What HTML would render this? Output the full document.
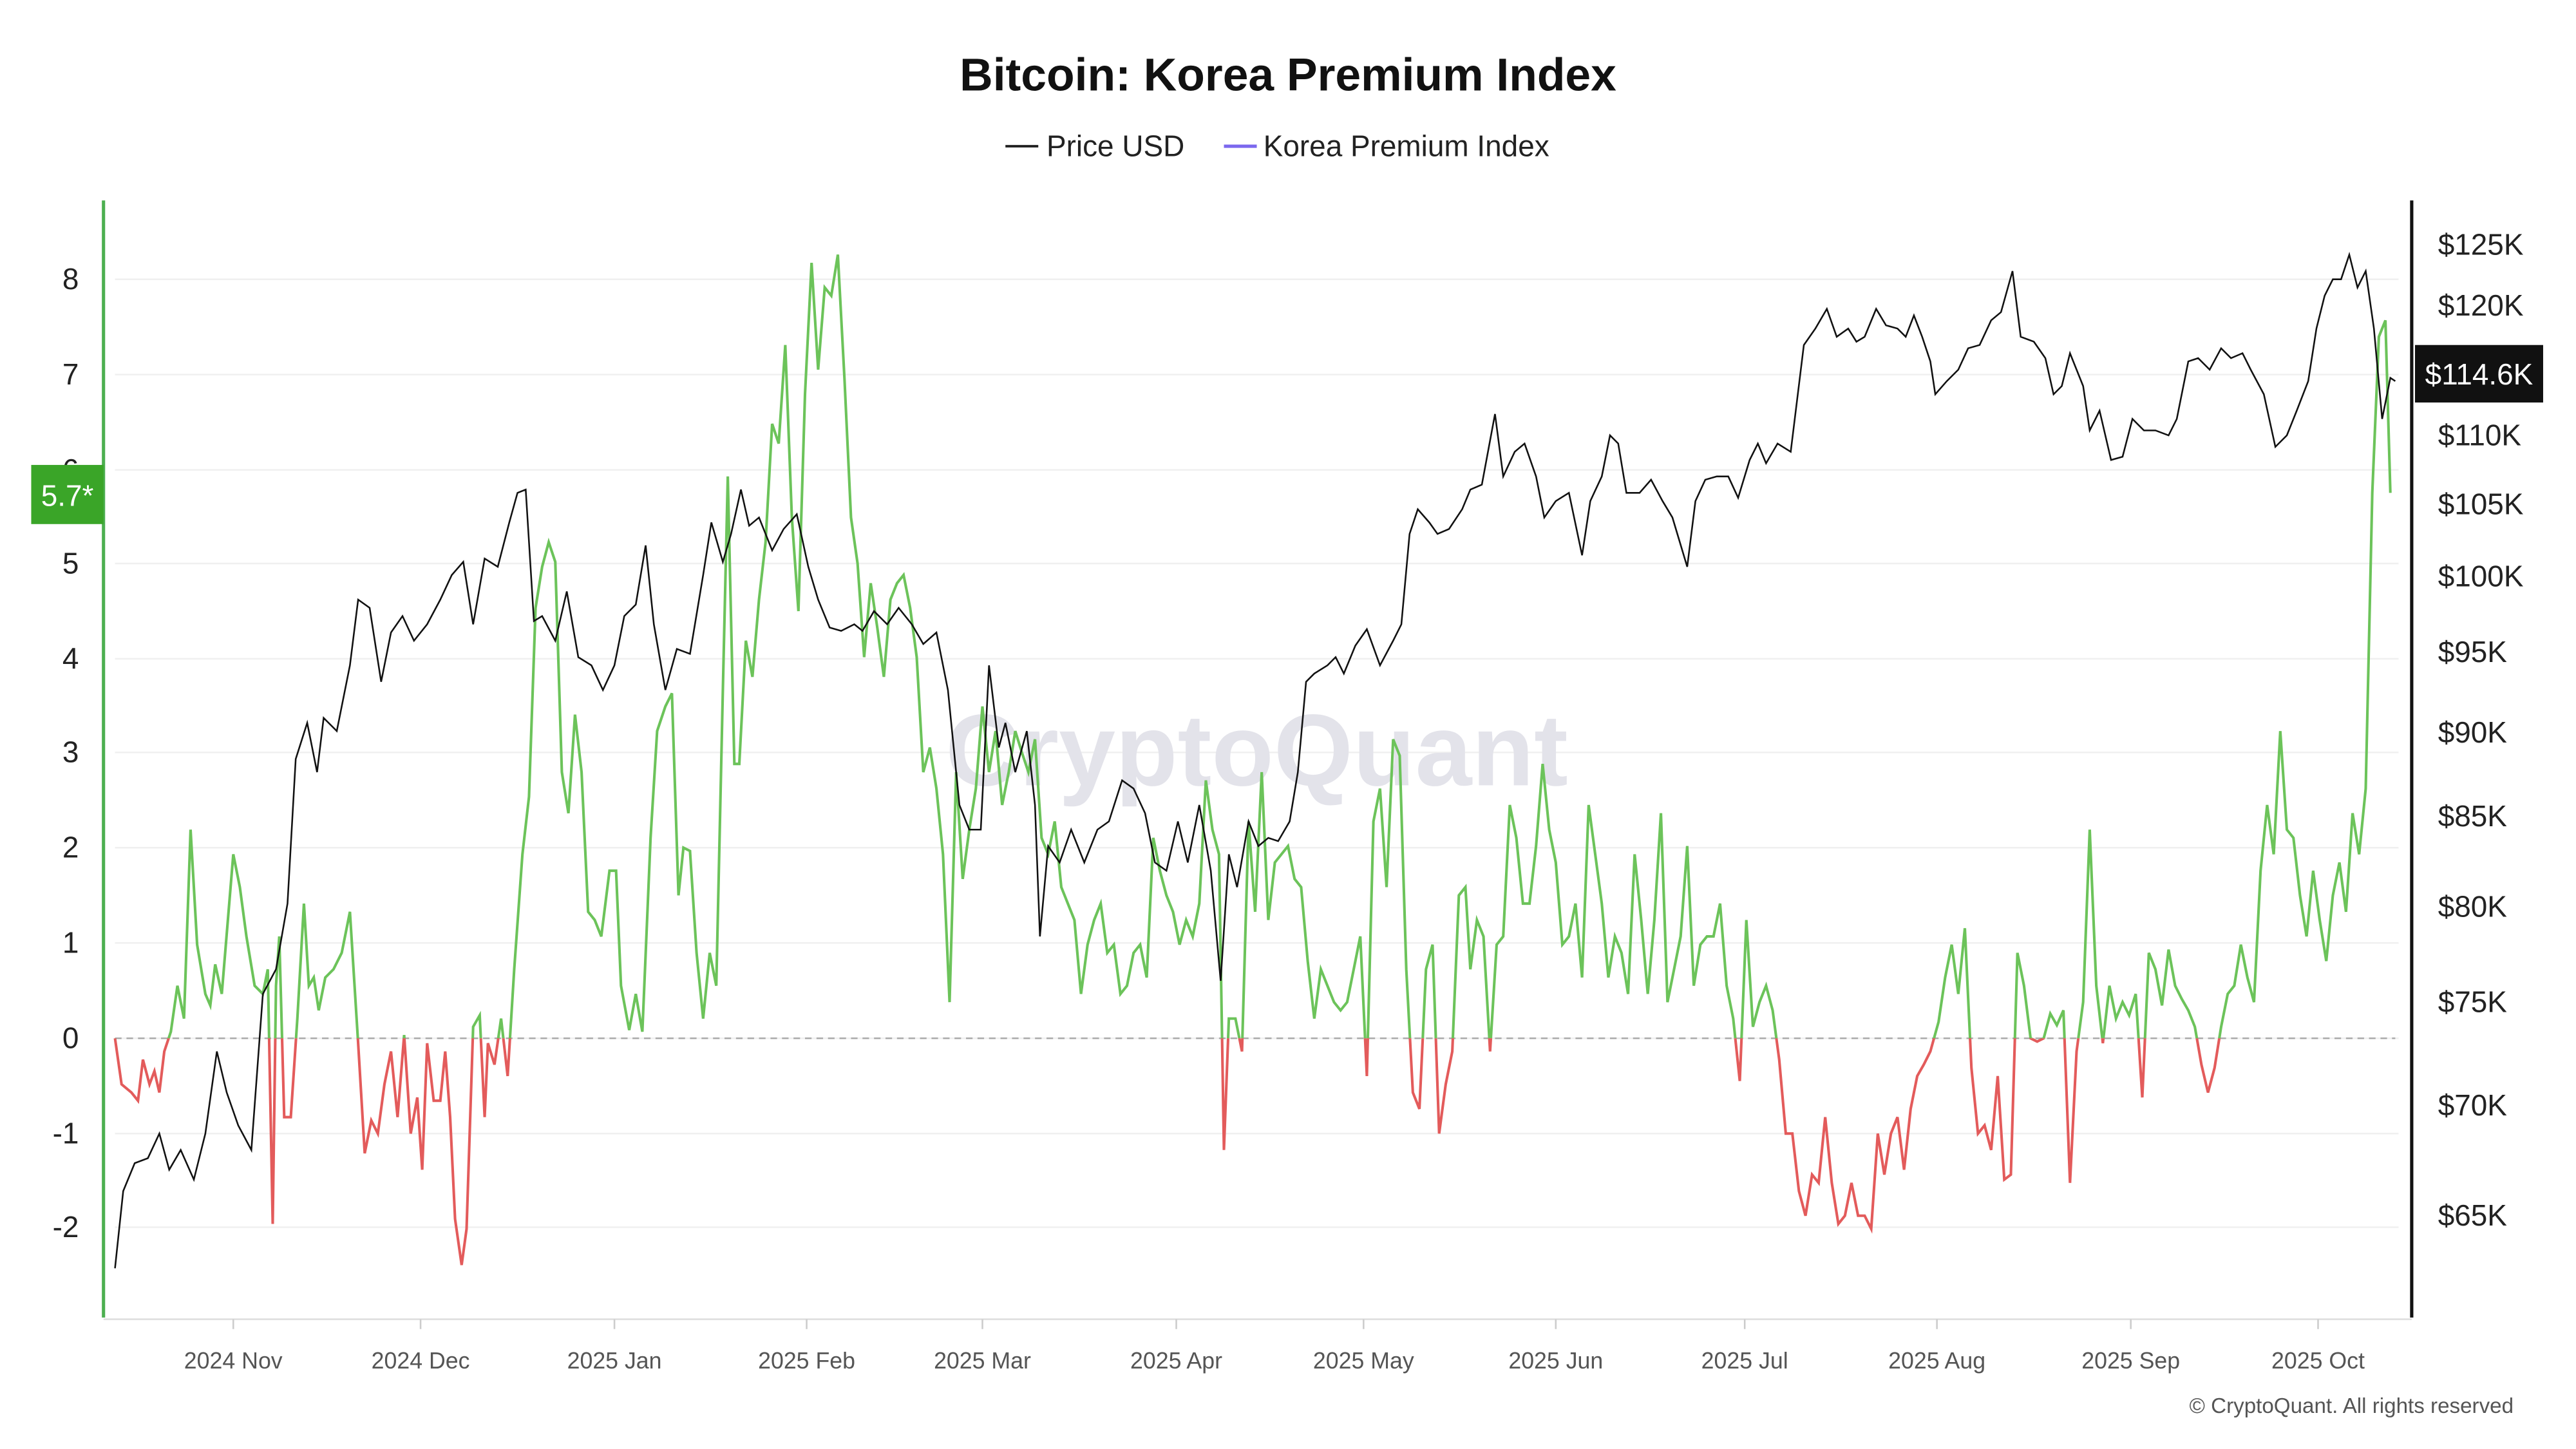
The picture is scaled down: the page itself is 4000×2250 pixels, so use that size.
<!DOCTYPE html>
<html><head><meta charset="utf-8"><style>
html,body{margin:0;padding:0;background:#fff;width:4000px;height:2250px;overflow:hidden}
svg{display:block}
text{font-family:"Liberation Sans",sans-serif}
</style></head><body>
<svg id="s" width="4000" height="2250" viewBox="0 0 1568 882" preserveAspectRatio="none" xmlns="http://www.w3.org/2000/svg">
<rect width="1568" height="882" fill="#fff"/>
<text x="784" y="55" text-anchor="middle" font-size="28" font-weight="bold" fill="#111">Bitcoin: Korea Premium Index</text>
<line x1="612" y1="89" x2="632" y2="89" stroke="#222" stroke-width="1.5"/>
<text x="637" y="95" font-size="18" fill="#222">Price USD</text>
<line x1="745" y1="89" x2="765" y2="89" stroke="#7b68ee" stroke-width="2"/>
<text x="769" y="95" font-size="18" fill="#222">Korea Premium Index</text>
<g id="grid" stroke="#f0f0f0" stroke-width="1"></g>
<text x="765" y="478" text-anchor="middle" font-size="62" fill="#e3e3ea" font-weight="bold">CryptoQuant</text>
<line x1="70" y1="632" x2="1458" y2="632" stroke="#aaa" stroke-width="1" stroke-dasharray="4,3"/>
<line x1="63" y1="122" x2="63" y2="802" stroke="#4caf50" stroke-width="2"/>
<line x1="1468" y1="122" x2="1468" y2="802" stroke="#111" stroke-width="2"/>
<line x1="63" y1="803" x2="1468" y2="803" stroke="#ddd" stroke-width="1"/>
<g id="lt" font-size="18" fill="#222" text-anchor="end"></g>
<g id="rt" font-size="18" fill="#222"></g>
<g id="xt" font-size="14" fill="#555" text-anchor="middle"></g>
<defs>
<clipPath id="up"><rect x="0" y="0" width="1568" height="632"/></clipPath>
<clipPath id="dn"><rect x="0" y="632" width="1568" height="250"/></clipPath>
</defs>
<polyline id="pg" fill="none" stroke="#6cc35a" stroke-width="1.6" clip-path="url(#up)"/>
<polyline id="pr" fill="none" stroke="#e35b5b" stroke-width="1.6" clip-path="url(#dn)"/>
<polyline id="price" fill="none" stroke="#111" stroke-width="1"/>
<rect x="19" y="283" width="44" height="36" fill="#3aa528"/>
<text x="41" y="308" text-anchor="middle" font-size="18" fill="#fff">5.7*</text>
<rect x="1470" y="210" width="78" height="35" fill="#111"/>
<text x="1509" y="234" text-anchor="middle" font-size="18" fill="#fff">$114.6K</text>
<text x="1530" y="860" text-anchor="end" font-size="13" fill="#555">© CryptoQuant. All rights reserved</text>
</svg>
<script>
var NS="http://www.w3.org/2000/svg";
function el(p,t,a,txt){var e=document.createElementNS(NS,t);for(var k in a)e.setAttribute(k,a[k]);if(txt!=null)e.textContent=txt;document.getElementById(p).appendChild(e);}
var lv=[[8,170],[7,228],[6,286],[5,343],[4,401],[3,458],[2,516],[1,574],[0,632],[-1,690],[-2,747]];
lv.forEach(function(a){el("grid","line",{x1:70,x2:1460,y1:a[1],y2:a[1]});el("lt","text",{x:48,y:a[1]+6},String(a[0]));});
var rv=[["$125K",149],["$120K",186],["$110K",265],["$105K",307],["$100K",351],["$95K",397],["$90K",446],["$85K",497],["$80K",552],["$75K",610],["$70K",673],["$65K",740]];
rv.forEach(function(a){el("rt","text",{x:1484,y:a[1]+6},a[0]);});
var xv=[["2024 Nov",142],["2024 Dec",256],["2025 Jan",374],["2025 Feb",491],["2025 Mar",598],["2025 Apr",716],["2025 May",830],["2025 Jun",947],["2025 Jul",1062],["2025 Aug",1179],["2025 Sep",1297],["2025 Oct",1411]];
xv.forEach(function(a){el("xt","text",{x:a[1],y:833},a[0]);el("xt","line",{x1:a[1],x2:a[1],y1:803,y2:809,stroke:"#ccc"});});
var price="70,772 75,725 82,708 90,705 97,690 103,712 110,700 118,718 125,690 132,640 138,665 145,685 153,700 160,605 168,590 175,550 180,462 187,440 193,470 197,437 205,445 213,405 218,365 225,370 232,415 238,385 245,375 252,390 260,380 268,365 275,350 282,342 288,380 295,340 303,345 310,318 315,300 320,298 325,378 330,375 338,390 345,360 352,400 360,405 367,420 374,405 380,375 387,368 393,332 398,380 405,420 412,395 420,398 428,350 433,318 440,342 445,325 451,298 456,320 462,315 470,335 477,322 485,313 492,345 498,365 505,382 512,384 520,380 525,384 532,372 540,380 547,370 555,380 562,392 570,385 577,420 584,490 590,505 597,505 602,405 608,455 612,440 618,470 625,445 630,490 633,570 638,515 645,525 652,505 660,525 668,505 675,500 683,475 690,480 697,495 703,525 710,530 717,500 723,525 730,490 737,530 743,597 748,520 753,540 760,500 766,515 772,510 778,512 785,500 790,470 795,415 800,410 808,405 813,400 818,410 825,393 832,383 840,405 848,390 853,380 858,325 863,310 870,318 875,325 882,322 890,310 895,298 902,295 910,252 915,290 922,275 928,270 935,290 940,315 947,305 955,300 963,338 968,305 975,290 980,265 985,270 990,300 998,300 1005,292 1012,305 1018,315 1027,345 1032,305 1038,292 1045,290 1052,290 1058,303 1065,280 1070,270 1075,282 1082,270 1090,275 1098,210 1105,200 1112,188 1118,205 1125,200 1130,208 1135,205 1142,188 1148,198 1155,200 1160,205 1165,192 1170,205 1175,220 1178,240 1185,232 1192,225 1198,212 1205,210 1212,195 1218,190 1225,165 1230,205 1238,208 1245,218 1250,240 1255,235 1260,215 1268,235 1272,262 1278,250 1285,280 1292,278 1298,255 1305,262 1312,262 1320,265 1325,255 1332,220 1338,218 1345,225 1352,212 1358,218 1365,215 1370,225 1378,240 1385,272 1392,265 1398,250 1405,232 1410,200 1415,180 1420,170 1425,170 1430,155 1435,175 1440,165 1445,200 1450,255 1455,230 1458,232";
var prem="70,632 74,660 80,665 84,670 87,645 91,660 94,652 97,665 100,640 104,628 108,600 112,620 116,505 120,575 125,605 128,612 131,587 135,605 142,520 146,540 150,570 155,600 160,605 163,590 166,745 168,600 170,570 173,680 177,680 181,620 185,550 188,600 191,595 194,615 198,595 203,590 208,580 213,555 218,635 222,702 226,682 230,690 234,660 238,640 242,680 246,630 250,690 254,668 257,712 260,635 264,670 268,670 271,640 274,680 277,742 281,770 284,748 288,625 292,618 295,680 297,635 301,648 305,620 309,655 313,590 318,520 322,485 326,370 330,345 334,330 338,342 342,470 346,495 350,435 354,470 358,555 362,560 366,570 371,530 375,530 378,600 383,627 387,605 391,628 396,510 400,445 405,430 409,422 413,545 416,516 420,518 424,580 428,620 432,580 436,600 440,420 443,290 447,465 450,465 454,390 458,412 462,365 466,330 470,258 474,270 478,210 482,315 486,372 490,240 494,160 498,225 502,175 506,180 510,155 514,230 518,315 522,343 526,400 530,355 534,382 538,412 542,365 546,355 550,350 554,370 558,400 562,470 566,455 570,480 574,520 578,610 582,470 586,535 590,505 594,480 598,430 602,470 606,445 610,490 614,470 618,445 622,458 626,470 630,450 634,510 638,520 642,500 646,540 650,550 654,560 658,605 662,575 666,560 670,550 674,580 678,575 682,605 686,600 690,580 694,575 698,595 702,510 706,530 710,545 714,555 718,575 722,560 726,570 730,550 734,475 738,505 742,520 745,700 748,620 752,620 756,640 760,500 764,555 768,470 772,560 776,525 780,520 784,515 788,535 792,540 796,585 800,620 804,590 808,600 812,610 816,615 820,610 824,590 828,570 832,655 836,500 840,480 844,540 848,450 852,460 856,590 860,665 864,675 868,590 872,575 876,690 880,660 884,640 888,545 892,540 895,590 899,560 903,570 907,640 911,575 915,570 919,490 923,510 927,550 931,550 935,515 939,465 943,505 947,525 951,575 955,570 959,550 963,595 967,490 971,520 975,550 979,595 983,570 987,580 991,605 995,520 999,560 1003,605 1007,560 1011,495 1015,610 1019,590 1023,570 1027,515 1031,600 1035,575 1039,570 1043,570 1047,550 1051,600 1055,620 1059,658 1063,560 1067,625 1071,610 1075,600 1079,615 1083,645 1087,690 1091,690 1095,725 1099,740 1103,715 1107,720 1111,680 1115,720 1119,745 1123,740 1127,720 1131,740 1135,740 1139,748 1143,690 1147,715 1151,690 1155,680 1159,712 1163,675 1167,655 1171,648 1175,640 1180,622 1184,595 1188,575 1192,605 1196,565 1200,650 1204,690 1208,685 1212,700 1216,655 1220,718 1224,715 1228,580 1232,600 1236,632 1240,634 1244,632 1248,617 1252,624 1256,615 1260,720 1264,640 1268,610 1272,505 1276,600 1280,635 1284,600 1288,620 1292,610 1296,618 1300,605 1304,668 1308,580 1312,590 1316,612 1320,578 1324,600 1328,608 1332,615 1336,625 1340,648 1344,665 1348,650 1352,625 1356,605 1360,600 1364,575 1368,595 1372,610 1376,530 1380,490 1384,520 1388,445 1392,505 1396,510 1400,545 1404,570 1408,530 1412,560 1416,585 1420,545 1424,525 1428,555 1432,495 1436,520 1440,480 1444,300 1448,205 1452,195 1455,300";
document.getElementById("price").setAttribute("points",price);
document.getElementById("pg").setAttribute("points",prem);
document.getElementById("pr").setAttribute("points",prem);
</script>
</body></html>
